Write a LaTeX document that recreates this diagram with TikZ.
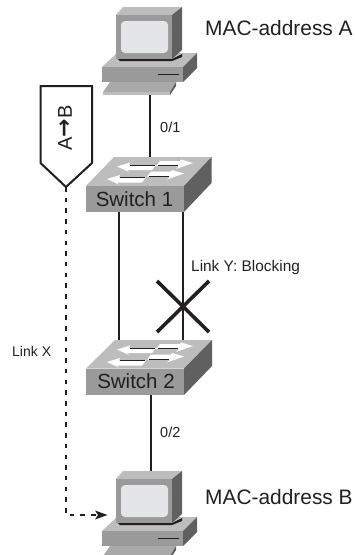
\documentclass[tikz,border=0pt]{standalone}
\usepackage{fontspec}
\setmainfont{Liberation Sans}
\newfontfamily\arrowfont{DejaVu Sans}
\usetikzlibrary{arrows.meta}
\definecolor{gfront}{HTML}{9A9A9A}
\definecolor{gtop}{HTML}{BDBDBD}
\definecolor{gside}{HTML}{606060}
\definecolor{gscreen}{HTML}{E4E5E8}
\definecolor{ink}{HTML}{231F20}
\tikzset{
  x=1pt,y=-1pt,
  wire/.style={draw=ink,line width=2pt},
  dashwire/.style={draw=ink,line width=2pt,dash pattern=on 4.5pt off 6.2pt},
  cross/.style={draw=ink,line width=3.6pt},
  lbl/.style={text=ink,inner sep=0pt,anchor=west},
  bigl/.style={lbl,font=\fontsize{20.9}{22}\selectfont},
  smalll/.style={lbl,font=\fontsize{14.5}{17}\selectfont},
  swl/.style={text=ink,inner sep=0pt,font=\fontsize{20.5}{22}\selectfont},
  flagbox/.style={draw=ink,line width=2pt,fill=white,line join=miter},
  pc/.pic={
    \fill[gtop] (102,67)--(117,53)--(197,53)--(183,67)--cycle;
    \fill[gfront] (102,67)--(183,67)--(183,82)--(102,82)--cycle;
    \fill[gside] (183,67)--(197,53)--(197,68)--(183,82)--cycle;
    \draw[ink,line width=0.8pt] (158,74)--(179,74);
    \fill[ink] (118,59)--(172,59)--(182,54)--(182,57)--(172,61)--(120,61)--cycle;
    \fill[gtop] (116,15)--(123,7)--(182,7)--(172,15)--cycle;
    \fill[gfront] (116,15)--(172,15)--(172,59)--(116,59)--cycle;
    \fill[gside] (172,15)--(182,7)--(182,50)--(172,59)--cycle;
    \fill[gscreen,rounded corners=4pt] (121,21) rectangle (168,53);
    \fill[gfront!85!white] (110,82)--(176,82)--(170,92)--(103,92)--cycle;
    \fill[gtop] (103,92)--(170,92)--(170,95)--(103,95)--cycle;
    \fill[gside] (176,82)--(176,86)--(170,95)--(170,92)--cycle;
  },
  swarrows/.pic={
    \foreach \dx/\dy in {0/0,-10/12.5}{
      \begin{scope}[shift={(\dx,\dy)}]
      \fill[white] (117,166.5)--(130,162.5)--(129,165)--(156,165)--(152,170)--(127,170)--(129,172)--cycle;
      \draw[ink,line width=0.8pt] (130,165)--(155,165);
      \end{scope}
    }
    \foreach \dx/\dy in {0/0,-9/10.5}{
      \begin{scope}[shift={(\dx,\dy)}]
      \fill[white] (193,163)--(181,159.5)--(180,161)--(160,161)--(156,166)--(179,166)--(176,169)--cycle;
      \draw[ink,line width=0.8pt] (158,165.8)--(178,165.8);
      \end{scope}
    }
  },
}
\begin{document}
\begin{tikzpicture}
\useasboundingbox (0,0) rectangle (355,555);
\clip (0,0) rectangle (355,555);
% named ports
\coordinate (pcAport) at (150,93);
\coordinate (swAtop) at (150,157);
\coordinate (swAlinkL) at (119,212);
\coordinate (swAlinkR) at (183,212);
\coordinate (swBlinkL) at (119,340);
\coordinate (swBlinkR) at (183,340);
\coordinate (swBbot) at (151,394);
\coordinate (pcBport) at (151,472);
\coordinate (crossA) at (157,281);
\coordinate (crossB) at (209,332);
\coordinate (crossC) at (209,281);
\coordinate (crossD) at (157,332);
\coordinate (flagTip) at (66,187);
\coordinate (xBend) at (66,515);
\coordinate (pcBin) at (100,515);
% connectors
\draw[wire] (pcAport)--(swAtop);
\draw[wire] (swAlinkL)--(swBlinkL);
\draw[wire] (swAlinkR)--(swBlinkR);
\draw[wire] (swBbot)--(pcBport);
\draw[cross] (crossA)--(crossB);
\draw[cross] (crossC)--(crossD);
% PCs
\pic at (0,0) {pc};
\pic at (0,464) {pc};
% switch 1
\fill[gtop] (86,186)--(114,157)--(211.5,157)--(184,186)--cycle;
\fill[gfront] (86,186) rectangle (184,212);
\fill[gside] (184,186)--(211.5,157)--(211.5,183)--(184,212)--cycle;
\pic at (0,0) {swarrows};
\node[swl] (sw1) at (134.5,199) {Switch 1};
% switch 2
\fill[gtop] (86,368.5)--(115,340)--(212,340)--(184,368.5)--cycle;
\fill[gfront] (86,368.5) rectangle (184,395);
\fill[gside] (184,368.5)--(212,340)--(212,366)--(184,395)--cycle;
\pic at (0,183) {swarrows};
\node[swl] (sw2) at (136,381.5) {Switch 2};
% flag
\draw[flagbox] (40.5,86)--(92,86)--(92,163)--(flagTip)--(40.5,163)--cycle;
\node[text=ink,inner sep=0pt,rotate=90,font=\fontsize{20}{22}\selectfont] (flag) at (65,128) {A{\arrowfont\bfseries\fontsize{22}{22}\selectfont →}B};
% link X
\draw[dashwire] (flagTip)--(xBend)--(pcBin);
\fill[ink] (107.5,515)--(95,510.5)--(98,515)--(95,519.5)--cycle;
% labels
\node[bigl] (macA) at (205,28) {MAC-address A};
\node[bigl] (macB) at (205,497) {MAC-address B};
\node[smalll] (p01) at (160,127) {0/1};
\node[smalll] (p02) at (160,432) {0/2};
\node[lbl,font=\fontsize{15.4}{17}\selectfont] (ly) at (191,268) {Link Y: Blocking};
\node[lbl,font=\fontsize{14}{16}\selectfont] (lx) at (12,351) {Link X};
\end{tikzpicture}
\end{document}
